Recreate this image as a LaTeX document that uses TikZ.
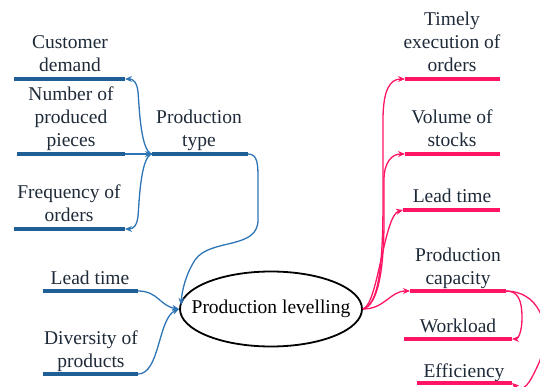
\documentclass[tikz,border=0pt]{standalone}
\usepackage{fontspec}
\setmainfont{Liberation Serif}
\usetikzlibrary{arrows.meta,shapes.geometric}
\definecolor{bthick}{HTML}{1F5F96}
\definecolor{bline}{HTML}{2E75B6}
\definecolor{pk}{HTML}{FF1466}
\definecolor{txt}{HTML}{1E2A38}
\tikzset{
  lbl/.style={anchor=base,align=center,inner sep=0pt,text=txt,font=\fontsize{19.5}{23}\selectfont},
  bul/.style={draw=bthick,line width=3.5pt},
  pul/.style={draw=pk,line width=3.5pt},
  barrow/.style={draw=bline,line width=1.3pt,-{Stealth[length=7pt,width=6pt]}},
  parrow/.style={draw=pk,line width=1.3pt,-{Stealth[length=7pt,width=6pt]}},
}
\begin{document}
\begin{tikzpicture}[x=1pt,y=-1pt]
\useasboundingbox (0,0) rectangle (540,387);
% ellipse
\node[ellipse,draw=black,line width=1.8pt,minimum width=182pt,minimum height=75pt,
      inner xsep=-16pt,inner ysep=0pt,
      text=black,font=\fontsize{19.5}{23}\selectfont] (ell) at (271,309) {Production levelling};
% left topics
\node[lbl] (cd) at (70,72) {Customer\\demand};
\coordinate (cdL) at (14,79); \coordinate (cdR) at (125,79);
\node[lbl] (np) at (71,147) {Number of\\produced\\pieces};
\coordinate (npL) at (17,154); \coordinate (npR) at (125,154);
\node[lbl] (pt) at (199,147) {Production\\type};
\coordinate (ptL) at (152,154); \coordinate (ptR) at (248,154);
\node[lbl] (fo) at (69,222) {Frequency of\\orders};
\coordinate (foL) at (14,229); \coordinate (foR) at (125,229);
\node[lbl] (lt) at (90,284) {Lead time};
\coordinate (ltL) at (43,291); \coordinate (ltR) at (138,291);
\node[lbl] (dp) at (91,367) {Diversity of\\products};
\coordinate (dpL) at (43,374); \coordinate (dpR) at (138,374);
% right topics
\node[lbl] (te) at (452,72) {Timely\\execution of\\orders};
\coordinate (teL) at (405,79); \coordinate (teR) at (500,79);
\node[lbl] (vs) at (452,147) {Volume of\\stocks};
\coordinate (vsL) at (405,154); \coordinate (vsR) at (500,154);
\node[lbl] (lr) at (452,203) {Lead time};
\coordinate (lrL) at (403,210); \coordinate (lrR) at (500,210);
\node[lbl] (pc) at (458,284) {Production\\capacity};
\coordinate (pcL) at (410,291); \coordinate (pcR) at (506,291);
\node[lbl] (wl) at (458,332) {Workload};
\coordinate (wlL) at (404,339); \coordinate (wlR) at (512,339);
\node[lbl] (ef) at (464,377) {Efficiency};
\coordinate (efL) at (417,383); \coordinate (efR) at (512,383);
% underlines
\draw[bul] (cdL) -- (cdR);
\draw[bul] (npL) -- (npR);
\draw[bul] (ptL) -- (ptR);
\draw[bul] (foL) -- (foR);
\draw[bul] (ltL) -- (ltR);
\draw[bul] (dpL) -- (dpR);
\draw[pul] (teL) -- (teR);
\draw[pul] (vsL) -- (vsR);
\draw[pul] (lrL) -- (lrR);
\draw[pul] (pcL) -- (pcR);
\draw[pul] (wlL) -- (wlR);
\draw[pul] (efL) -- (efR);
% blue connectors
\draw[barrow] (npR) -- (ptL);
\draw[barrow] (ptL) .. controls (140,152) and (139,100) .. (138,92) .. controls (137,82) and (133,79) .. (cdR);
\draw[barrow] (ptL) .. controls (140,156) and (139,208) .. (138,216) .. controls (137,226) and (133,229) .. (foR);
\draw[barrow] (ptR) .. controls (258,154) and (258,165) .. (258,180) -- (258,220)
  .. controls (258,250) and (210,238) .. (195,260) .. controls (186,274) and (182,290) .. (181,305);
\draw[barrow] (ltR) .. controls (158,291) and (160,306) .. (ell.west);
\draw[barrow] (dpR) .. controls (160,374) and (158,318) .. (ell.west);
% pink connectors
\draw[parrow] (ell.east) .. controls (378,305) and (383,270) .. (383,200) -- (383,120)
  .. controls (383,90) and (390,79) .. (teL);
\draw[parrow] (ell.east) .. controls (378,305) and (384,270) .. (384,220) -- (384,180)
  .. controls (384,162) and (392,154) .. (vsL);
\draw[parrow] (ell.east) .. controls (378,305) and (384,215) .. (lrL);
\draw[parrow] (ell.east) .. controls (385,309) and (390,291) .. (pcL);
\draw[parrow] (pcR) .. controls (518,291) and (522,300) .. (522,318) .. controls (522,332) and (518,339) .. (wlR);
\draw[parrow] (pcR) .. controls (545,292) and (552,335) .. (538,365) .. controls (530,382) and (524,394) .. (efR);
\end{tikzpicture}
\end{document}
